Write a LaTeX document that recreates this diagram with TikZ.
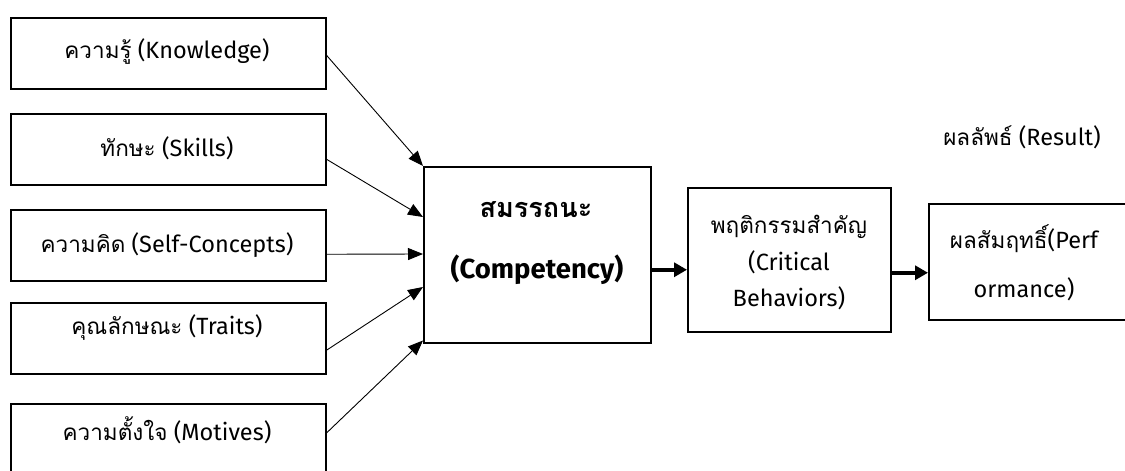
\documentclass[tikz,border=0pt]{standalone}
\usepackage{fontspec}
\setmainfont{Fira Sans}
\newfontfamily\thaifont[Script=Thai]{Loma}
\newcommand{\tha}[1]{{\thaifont\fontsize{22.5}{26}\selectfont #1}}
\newcommand{\thab}[1]{{\thaifont\bfseries\fontsize{27}{31}\selectfont #1}}
\usetikzlibrary{arrows.meta}
\tikzset{
  box/.style={draw, line width=1.5pt, inner sep=0pt, anchor=north west},
  txt/.style={font=\fontsize{23.5}{26}\selectfont, inner sep=0pt, align=center},
  btxt/.style={font=\bfseries\fontsize{27.5}{30}\selectfont, inner sep=0pt, align=center},
  thin/.style={line width=0.9pt, -{Triangle[length=15pt,width=12pt]}},
  thick/.style={line width=3.5pt, -{Triangle[length=13pt,width=14pt]}}
}
\begin{document}
\begin{tikzpicture}[x=1pt,y=-1pt]
\useasboundingbox (0,0) rectangle (1125,471);
\clip (0,0) rectangle (1125,471);
% left boxes
\node[box, minimum width=315pt, minimum height=71pt] (k1) at (10,17) {};
\node[box, minimum width=315pt, minimum height=71pt] (k2) at (10,113) {};
\node[box, minimum width=315pt, minimum height=71pt] (k3) at (10,209) {};
\node[box, minimum width=315pt, minimum height=71pt] (k4) at (10,302) {};
\node[box, minimum width=315pt, minimum height=75pt] (k5) at (10,403) {};
\node[txt] (t1) at (167,52) {\tha{ความรู้} (Knowledge)};
\node[txt] (t2) at (167,148) {\tha{ทักษะ} (Skills)};
\node[txt] (t3) at (167,245) {\tha{ความคิด} (Self-Concepts)};
\node[txt] (t4) at (167,328) {\tha{คุณลักษณะ} (Traits)};
\node[txt] (t5) at (167,430) {\tha{ความตั้งใจ} (Motives)};
% competency
\node[box, minimum width=227pt, minimum height=176pt] (c) at (423,166) {};
\node[btxt] (c1) at (536,210) {\thab{สมรรถนะ}};
\node[btxt] (c2) at (537,270) {(Competency)};
% critical behaviors
\node[box, minimum width=203pt, minimum height=144pt] (b) at (687,187) {};
\node[txt] (b1) at (789,227) {\tha{พฤติกรรมสำคัญ}};
\node[txt] (b2) at (789,262) {(Critical};
\node[txt] (b3) at (789,298) {Behaviors)};
% performance
\node[box, minimum width=210pt, minimum height=116pt] (p) at (928,203) {};
\node[txt] (p1) at (1024,239) {\tha{ผลสัมฤทธิ์}(Perf};
\node[txt] (p2) at (1024,289) {ormance)};
% result
\node[txt] (r) at (1022,137) {\tha{ผลลัพธ์} (Result)};
% connectors
\draw[thin] ([yshift=-2pt]k1.east) -- (c.north west);
\draw[thin] ([yshift=-10pt]k2.east) -- ([yshift=-51pt]c.north west);
\draw[thin] ([yshift=-9pt]k3.east) -- ([yshift=-88pt]c.north west);
\draw[thin] ([yshift=-12pt]k4.east) -- ([yshift=-121pt]c.north west);
\draw[thin] ([yshift=-30pt]k5.north east) -- ([yshift=3pt]c.south west);
\draw[thick] ([yshift=-15pt]c.east) -- ([yshift=-10pt]b.west);
\draw[thick] ([yshift=-13pt]b.east) -- ([yshift=-11pt]p.west);
\end{tikzpicture}
\end{document}
